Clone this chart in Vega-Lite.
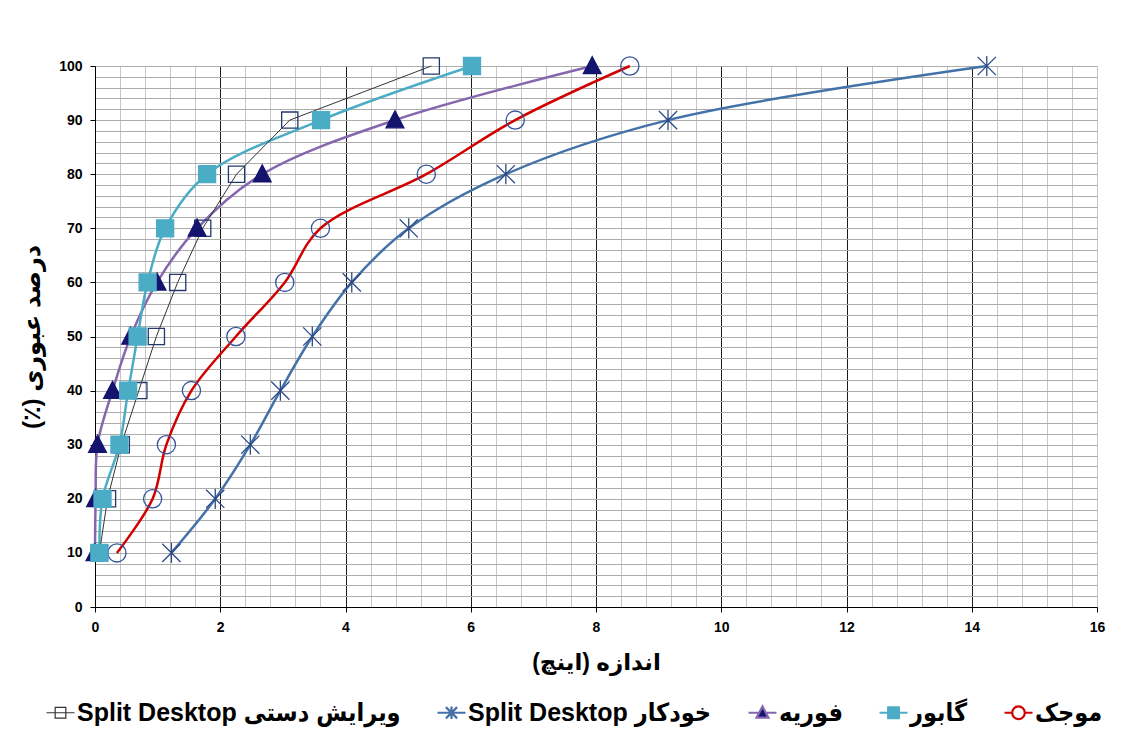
{
  "$schema": "https://vega.github.io/schema/vega-lite/v6.json",
  "autosize": "none",
  "width": 1002,
  "height": 541,
  "padding": {"left": 95, "top": 66, "right": 45, "bottom": 142},
  "background": "white",
  "config": {
    "view": {"stroke": null},
    "font": "Liberation Sans",
    "axis": {"labelFont": "Liberation Sans", "titleFont": "Liberation Sans, DejaVu Sans"}
  },
  "data": {
    "values": [
      {"series": "موجک", "x": 0.35, "y": 10},
      {"series": "موجک", "x": 0.92, "y": 20},
      {"series": "موجک", "x": 1.14, "y": 30},
      {"series": "موجک", "x": 1.54, "y": 40},
      {"series": "موجک", "x": 2.25, "y": 50},
      {"series": "موجک", "x": 3.03, "y": 60},
      {"series": "موجک", "x": 3.6, "y": 70},
      {"series": "موجک", "x": 5.29, "y": 80},
      {"series": "موجک", "x": 6.71, "y": 90},
      {"series": "موجک", "x": 8.54, "y": 100},
      {"series": "Split Desktop خودکار", "x": 1.22, "y": 10},
      {"series": "Split Desktop خودکار", "x": 1.92, "y": 20},
      {"series": "Split Desktop خودکار", "x": 2.48, "y": 30},
      {"series": "Split Desktop خودکار", "x": 2.96, "y": 40},
      {"series": "Split Desktop خودکار", "x": 3.47, "y": 50},
      {"series": "Split Desktop خودکار", "x": 4.1, "y": 60},
      {"series": "Split Desktop خودکار", "x": 5.01, "y": 70},
      {"series": "Split Desktop خودکار", "x": 6.56, "y": 80},
      {"series": "Split Desktop خودکار", "x": 9.15, "y": 90},
      {"series": "Split Desktop خودکار", "x": 14.24, "y": 100},
      {"series": "Split Desktop ویرایش دستی", "x": 0.07, "y": 10},
      {"series": "Split Desktop ویرایش دستی", "x": 0.2, "y": 20},
      {"series": "Split Desktop ویرایش دستی", "x": 0.42, "y": 30},
      {"series": "Split Desktop ویرایش دستی", "x": 0.7, "y": 40},
      {"series": "Split Desktop ویرایش دستی", "x": 0.98, "y": 50},
      {"series": "Split Desktop ویرایش دستی", "x": 1.32, "y": 60},
      {"series": "Split Desktop ویرایش دستی", "x": 1.72, "y": 70},
      {"series": "Split Desktop ویرایش دستی", "x": 2.26, "y": 80},
      {"series": "Split Desktop ویرایش دستی", "x": 3.11, "y": 90},
      {"series": "Split Desktop ویرایش دستی", "x": 5.37, "y": 100},
      {"series": "فوریه", "x": 0.0, "y": 10},
      {"series": "فوریه", "x": 0.01, "y": 20},
      {"series": "فوریه", "x": 0.04, "y": 30},
      {"series": "فوریه", "x": 0.28, "y": 40},
      {"series": "فوریه", "x": 0.57, "y": 50},
      {"series": "فوریه", "x": 0.99, "y": 60},
      {"series": "فوریه", "x": 1.63, "y": 70},
      {"series": "فوریه", "x": 2.67, "y": 80},
      {"series": "فوریه", "x": 4.79, "y": 90},
      {"series": "فوریه", "x": 7.94, "y": 100},
      {"series": "گابور", "x": 0.07, "y": 10},
      {"series": "گابور", "x": 0.12, "y": 20},
      {"series": "گابور", "x": 0.39, "y": 30},
      {"series": "گابور", "x": 0.53, "y": 40},
      {"series": "گابور", "x": 0.68, "y": 50},
      {"series": "گابور", "x": 0.84, "y": 60},
      {"series": "گابور", "x": 1.12, "y": 70},
      {"series": "گابور", "x": 1.79, "y": 80},
      {"series": "گابور", "x": 3.61, "y": 90},
      {"series": "گابور", "x": 6.02, "y": 100}
    ]
  },
  "encoding": {
    "x": {
      "field": "x", "type": "quantitative",
      "scale": {"domain": [0, 16], "nice": false, "zero": false},
      "axis": {
        "title": "\u202Bاندازه (اینچ)\u202C",
        "titleFontSize": 23, "titleFontWeight": "bold", "titleColor": "#000", "titlePadding": 17,
        "values": [0,0.4,0.8,1.2,1.6,2,2.4,2.8,3.2,3.6,4,4.4,4.8,5.2,5.6,6,6.4,6.8,7.2,7.6,8,8.4,8.8,9.2,9.6,10,10.4,10.8,11.2,11.6,12,12.4,12.8,13.2,13.6,14,14.4,14.8,15.2,15.6,16],
        "labelExpr": "datum.value % 2 === 0 ? '' + datum.value : ''",
        "labelFontSize": 14, "labelFontWeight": "bold", "labelColor": "#000", "labelPadding": 8,
        "labelFlush": false, "labelOverlap": false,
        "grid": true,
        "gridColor": {"condition": {"test": "datum.value % 2 === 0 && datum.value > 0 && datum.value < 16", "value": "#1a1a1a"}, "value": "#c6c6c6"},
        "gridOpacity": 1, "gridWidth": 1,
        "tickColor": "#000", "tickSize": 5,
        "tickOpacity": {"condition": {"test": "datum.value % 2 === 0", "value": 1}, "value": 0},
        "domainColor": "#000", "domainWidth": 1
      }
    },
    "y": {
      "field": "y", "type": "quantitative",
      "scale": {"domain": [0, 100], "nice": false},
      "axis": {
        "title": "\u202Bدرصد عبوری (٪)\u202C",
        "titleFontSize": 24, "titleFontWeight": "bold", "titleColor": "#000", "titlePadding": 14,
        "values": [0,2,4,6,8,10,12,14,16,18,20,22,24,26,28,30,32,34,36,38,40,42,44,46,48,50,52,54,56,58,60,62,64,66,68,70,72,74,76,78,80,82,84,86,88,90,92,94,96,98,100],
        "labelExpr": "datum.value % 10 === 0 ? '' + datum.value : ''",
        "labelFontSize": 14, "labelFontWeight": "bold", "labelColor": "#000", "labelPadding": 8,
        "labelFlush": false, "labelOverlap": false,
        "grid": true, "gridColor": "#acacac", "gridOpacity": 1, "gridWidth": 1,
        "tickColor": "#000", "tickSize": 5,
        "tickOpacity": {"condition": {"test": "datum.value % 10 === 0", "value": 1}, "value": 0},
        "domainColor": "#000", "domainWidth": 1
      }
    }
  },
  "layer": [
    {
      "transform": [{"filter": "datum.series !== 'Split Desktop ویرایش دستی'"}],
      "mark": {"type": "line", "interpolate": "catmull-rom", "strokeWidth": 2.5},
      "encoding": {
        "color": {
          "field": "series", "type": "nominal",
          "scale": {
            "domain": ["Split Desktop ویرایش دستی", "Split Desktop خودکار", "فوریه", "گابور", "موجک"],
            "range": ["#333333", "#4472a8", "#8567ad", "#4bacc6", "#d00000"]
          },
          "legend": {
            "orient": "none", "legendX": -47, "legendY": 634, "direction": "horizontal", "columns": 5,
            "title": null, "symbolSize": 784, "symbolStrokeWidth": 2.2,
            "labelFontSize": 25, "labelFontWeight": "bold", "labelColor": "#000", "labelFont": "Liberation Sans, DejaVu Sans Condensed",
            "labelLimit": 1000, "labelOffset": 4, "columnPadding": 32, "padding": 0,
            "encode": {
              "symbols": {
                "update": {
                  "shape": {"signal": "datum.value === 'موجک' ? 'M-1,0H-0.45M0.45,0H1M0.45,0A0.45,0.45,0,1,1,-0.45,0A0.45,0.45,0,1,1,0.45,0Z' : datum.value === 'گابور' ? 'M-1,0H1M-0.38,-0.38H0.38V0.38H-0.38Z' : datum.value === 'فوریه' ? 'M-1,0H-0.25M0.25,0H1M0,-0.45L0.42,0.35L-0.42,0.35Z' : datum.value === 'Split Desktop خودکار' ? 'M-1,0H1M0,-0.45V0.45M-0.4,-0.4L0.4,0.4M-0.4,0.4L0.4,-0.4' : 'M-1,0H-0.38M0.38,0H1M-0.38,-0.38H0.38V0.38H-0.38ZM-0.38,0H0.38'"},
                  "stroke": {"scale": "color", "field": "value"},
                  "fill": {"signal": "datum.value === 'گابور' ? '#4bacc6' : datum.value === 'فوریه' ? '#14146e' : 'transparent'"},
                  "strokeWidth": {"signal": "datum.value === 'Split Desktop ویرایش دستی' ? 1.2 : 2.2"},
                  "opacity": {"value": 1}
                }
              }
            }
          }
        }
      }
    },
    {
      "transform": [{"filter": "datum.series === 'Split Desktop ویرایش دستی'"}],
      "mark": {"type": "line", "interpolate": "linear", "strokeWidth": 1},
      "encoding": {
        "color": {"field": "series", "type": "nominal"}
      }
    },
    {
      "mark": {"type": "point", "filled": false, "size": 1640, "strokeWidth": 1.3, "opacity": 1},
      "encoding": {
        "shape": {
          "field": "series", "type": "nominal",
          "scale": {
            "domain": ["موجک", "گابور", "فوریه", "Split Desktop خودکار", "Split Desktop ویرایش دستی"],
            "range": [
              "M0.45,0A0.45,0.45,0,1,1,-0.45,0A0.45,0.45,0,1,1,0.45,0Z",
              "M-0.42,-0.42H0.42V0.42H-0.42Z",
              "M0,-0.46L0.44,0.38L-0.44,0.38Z",
              "M0,-0.5V0.5M-0.45,-0.45L0.45,0.45M-0.45,0.45L0.45,-0.45",
              "M-0.4,-0.4H0.4V0.4H-0.4Z"
            ]
          },
          "legend": null
        },
        "fill": {
          "field": "series", "type": "nominal",
          "scale": {
            "domain": ["موجک", "گابور", "فوریه", "Split Desktop خودکار", "Split Desktop ویرایش دستی"],
            "range": ["transparent", "#4bacc6", "#14146e", "transparent", "transparent"]
          },
          "legend": null
        },
        "stroke": {
          "field": "series", "type": "nominal",
          "scale": {
            "domain": ["موجک", "گابور", "فوریه", "Split Desktop خودکار", "Split Desktop ویرایش دستی"],
            "range": ["#35539a", "#4bacc6", "#14146e", "#2c4a86", "#24386e"]
          },
          "legend": null
        },
        "order": {"field": "y", "type": "quantitative"}
      }
    }
  ]
}
